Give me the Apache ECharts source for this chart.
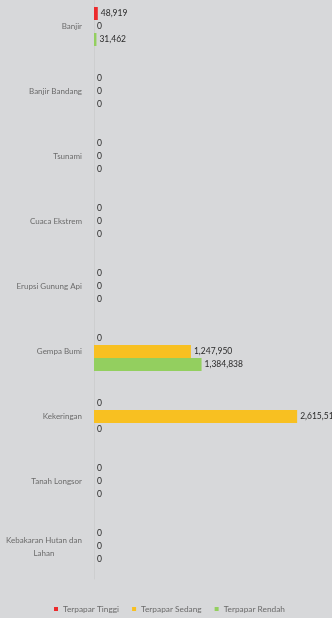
<!DOCTYPE html>
<html><head><meta charset="utf-8">
<script src="https://cdn.jsdelivr.net/npm/echarts@6/dist/echarts.min.js"></script>
<style>html,body{margin:0;padding:0;background:#d7d8da;overflow:hidden;}#c{width:332px;height:626px;margin-top:-8px;}</style>
</head><body><div id="c"></div>
<script>
const categories = ["Banjir","Banjir Bandang","Tsunami","Cuaca Ekstrem","Erupsi Gunung Api","Gempa Bumi","Kekeringan","Tanah Longsor","Kebakaran Hutan dan Lahan"];
const seriesNames = ["Terpapar Tinggi","Terpapar Sedang","Terpapar Rendah"];
const tinggi = [48919,0,0,0,0,0,0,0,0];
const sedang = [0,0,0,0,0,1247950,2615517,0,0];
const rendah = [31462,0,0,0,0,1384838,0,0,0];
const colors = ["#ec2a2c","#f8c021","#93cf5f"];
const font = "Lato, 'Open Sans', sans-serif";
const fmt = v => v.value.toLocaleString('en-US');
const mk = (name, data, color) => ({
  name, type:'bar', data, barGap:'0%', barCategoryGap:'40%',
  itemStyle:{color},
  label:{show:true, position:'right', distance:3, formatter:fmt, color:'#2a2a2a', fontSize:8.5, fontFamily:font}
});
const yData = categories.map(c => c === "Kebakaran Hutan dan Lahan"
  ? {value:c, textStyle:{align:'center', padding:[0,76,0,0], lineHeight:13}}
  : c);
const chart = echarts.init(document.getElementById('c'));
chart.setOption({
  backgroundColor:'#d7d8da',
  animation:false,
  grid:{left:94, right:5, top:2, bottom:39, containLabel:false},
  xAxis:{type:'value', min:0, max:3000000, show:false},
  yAxis:{type:'category', inverse:true, data:yData,
    axisLine:{show:true, lineStyle:{color:'#cdcecf'}},
    axisTick:{show:false},
    axisLabel:{color:'#6b6b6b', fontSize:8, fontFamily:font, margin:12, align:'right',
      formatter: v => v === "Kebakaran Hutan dan Lahan" ? "Kebakaran Hutan dan\nLahan" : v}
  },
  legend:{top:608, left:49, itemWidth:4, itemHeight:4, itemGap:13, icon:'rect',
    textStyle:{color:'#6b6b6b', fontSize:8.3, fontFamily:font}},
  series:[mk(seriesNames[0],tinggi,colors[0]), mk(seriesNames[1],sedang,colors[1]), mk(seriesNames[2],rendah,colors[2])]
});
</script></body></html>
